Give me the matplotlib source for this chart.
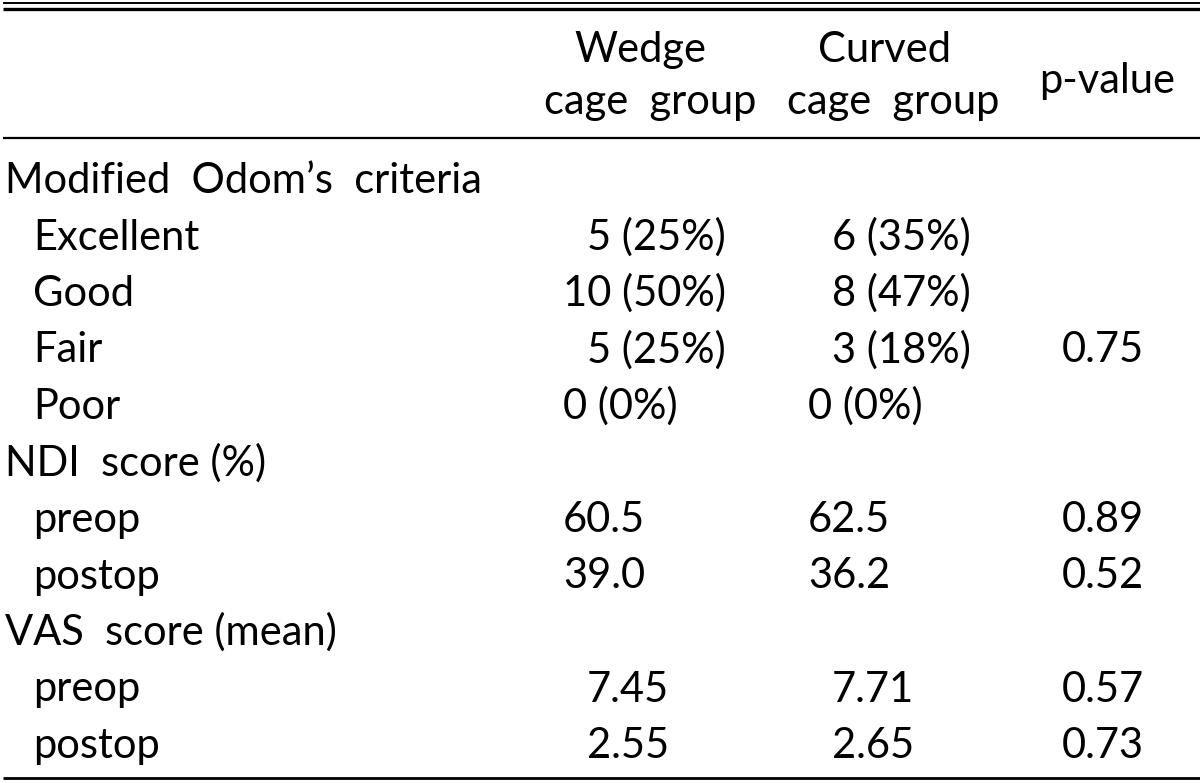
import matplotlib
matplotlib.use("Agg")
import matplotlib.pyplot as plt

# ---- data ----
row_labels = ["Modified  Odom\u2019s  criteria", "Excellent", "Good", "Fair", "Poor",
              "NDI  score (%)", "preop", "postop", "VAS  score (mean)", "preop", "postop"]
row_indent = [0, 1, 1, 1, 1, 0, 1, 1, 0, 1, 1]
wedge = ["", "5 (25%)", "10 (50%)", "5 (25%)", "0 (0%)", "", "60.5", "39.0", "", "7.45", "2.55"]
wedge_pad = [0, 1, 0, 1, 0, 0, 0, 0, 0, 1, 1]
curved = ["", "6 (35%)", "8 (47%)", "3 (18%)", "0 (0%)", "", "62.5", "36.2", "", "7.71", "2.65"]
curved_pad = [0, 1, 1, 1, 0, 0, 0, 0, 0, 1, 1]
pvals = ["", "", "", "0.75", "", "", "0.89", "0.52", "", "0.57", "0.73"]
header_wedge = ["Wedge", "cage  group"]
header_curved = ["Curved", "cage  group"]
header_p = "p-value"

FONT = "Lato"
FS = 30
W, H = 1200, 783

fig = plt.figure(figsize=(W / 100, H / 100), dpi=100)
ax = fig.add_axes([0, 0, 1, 1])
ax.set_xlim(0, W)
ax.set_ylim(H, 0)
ax.axis("off")

tk = dict(fontsize=FS, family=FONT, fontweight="normal", color="black", va="baseline")

# rules
ax.plot([3, W], [3, 3], color="black", lw=1.4, solid_capstyle="butt")
ax.plot([3, W], [8.5, 8.5], color="black", lw=2.4, solid_capstyle="butt")
ax.plot([3, W], [138, 138], color="black", lw=1.6, solid_capstyle="butt")
ax.plot([3, W], [778, 778], color="black", lw=2.0, solid_capstyle="butt")

# header
ax.text(640, 62, header_wedge[0], ha="center", **tk)
ax.text(650, 114, header_wedge[1], ha="center", **tk)
ax.text(884, 62, header_curved[0], ha="center", **tk)
ax.text(893, 114, header_curved[1], ha="center", **tk)
ax.text(1107, 93, header_p, ha="center", **tk)

# digit width for padding
fig.canvas.draw()
r = fig.canvas.get_renderer()
t = ax.text(0, 0, "0", **tk)
bb = t.get_window_extent(r)
digit_w = bb.width
t.remove()

y0, dy = 193, 56.5
for i, lab in enumerate(row_labels):
    y = y0 + i * dy
    ax.text(5 + 28 * row_indent[i], y, lab, ha="left", **tk)
    if wedge[i]:
        ax.text(563 + digit_w * wedge_pad[i], y, wedge[i], ha="left", **tk)
    if curved[i]:
        ax.text(808 + digit_w * curved_pad[i], y, curved[i], ha="left", **tk)
    if pvals[i]:
        ax.text(1062, y, pvals[i], ha="left", **tk)

fig.savefig("out.png", dpi=100)
